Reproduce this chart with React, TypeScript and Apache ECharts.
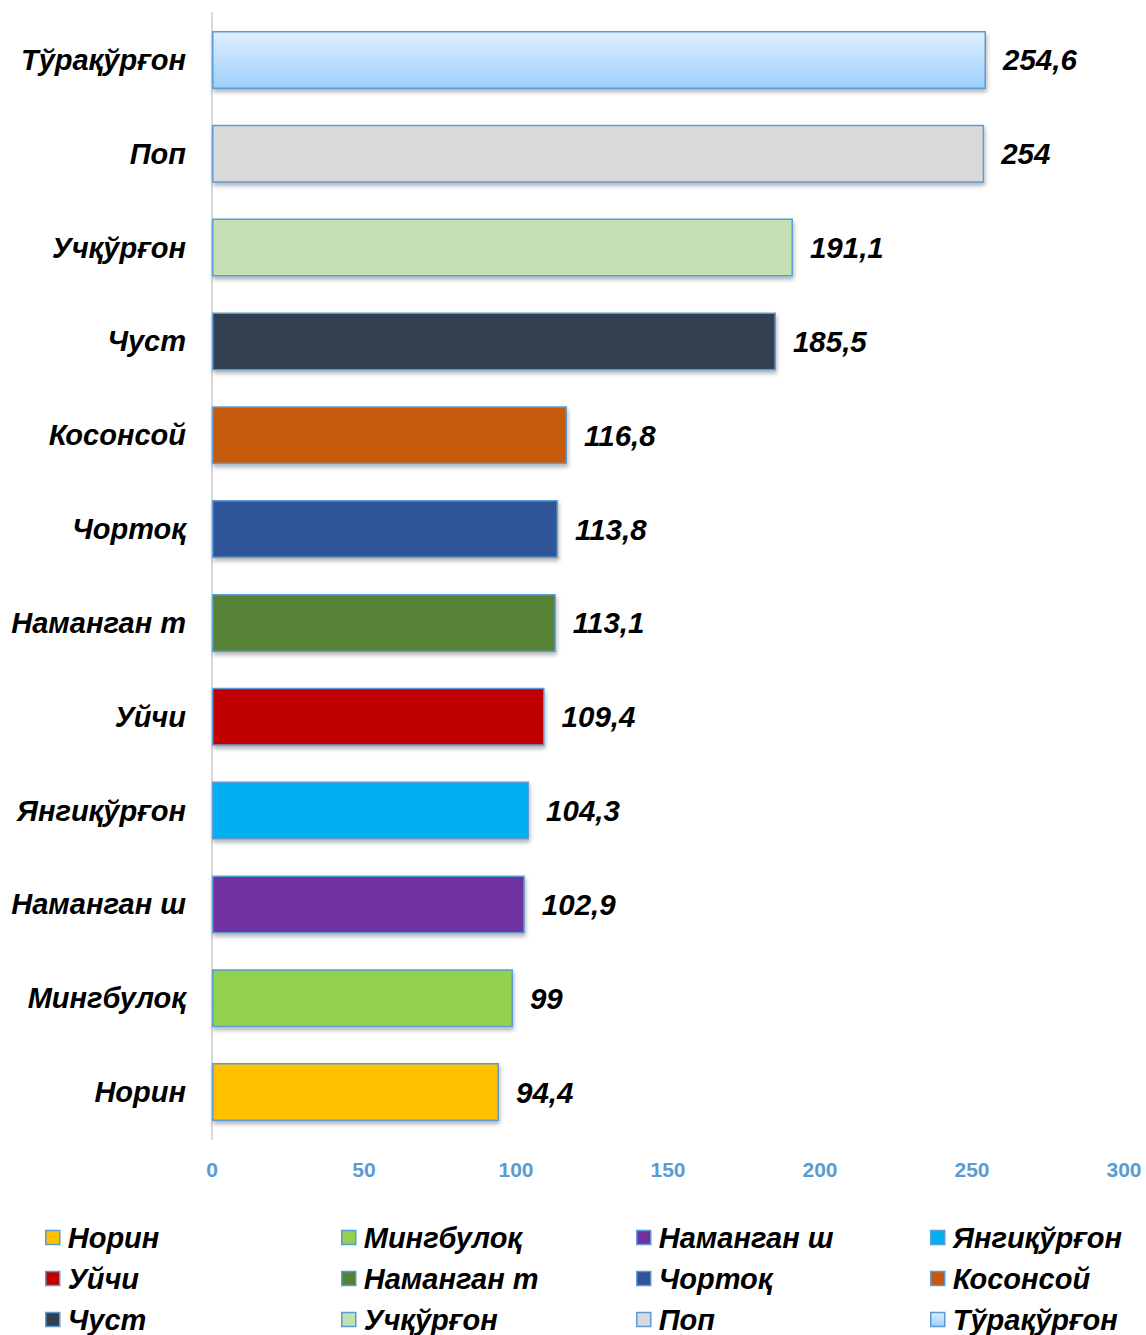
import React, { useEffect, useRef } from "react";
import * as echarts from "echarts";

const categories = [
  "Норин",
  "Мингбулоқ",
  "Наманган ш",
  "Янгиқўрғон",
  "Уйчи",
  "Наманган т",
  "Чортоқ",
  "Косонсой",
  "Чуст",
  "Учқўрғон",
  "Поп",
  "Тўрақўрғон",
];
const values = [94.4, 99, 102.9, 104.3, 109.4, 113.1, 113.8, 116.8, 185.5, 191.1, 254, 254.6];
const xTicks = [0, 50, 100, 150, 200, 250, 300];

const colors: any[] = [
  "#ffc000",
  "#92d050",
  "#7030a0",
  "#00b0f0",
  "#c00000",
  "#548235",
  "#2f5597",
  "#c55a11",
  "#333f50",
  "#c5e0b4",
  "#d9d9d9",
  {
    type: "linear",
    x: 0,
    y: 0,
    x2: 0,
    y2: 1,
    colorStops: [
      { offset: 0, color: "#e0efff" },
      { offset: 1, color: "#9ccffa" },
    ],
  },
];

const legendColumns = [
  [0, 4, 8],
  [1, 5, 9],
  [2, 6, 10],
  [3, 7, 11],
];
const legendLeft = [45, 341, 636, 930];

const FONT = "'Liberation Sans', Arial, sans-serif";

export default function App() {
  const ref = useRef<HTMLDivElement>(null);
  useEffect(() => {
    if (!ref.current) return;
    const chart = echarts.init(ref.current, undefined, { renderer: "svg" });
    const series = categories.map((name, i) => ({
      name,
      type: "bar",
      stack: "all",
      barWidth: 58,
      data: values.map((v, j) => (j === i ? v : "-")),
      itemStyle: {
        color: colors[i],
        borderColor: "#5b9bd5",
        borderWidth: 1.5,
        shadowBlur: 4,
        shadowOffsetY: 3,
        shadowOffsetX: 1,
        shadowColor: "rgba(0,0,0,0.3)",
      },
      label: {
        show: true,
        position: "right",
        distance: 17,
        formatter: (p: any) => String(p.value).replace(".", ","),
        fontSize: 29.5,
        fontWeight: "bold",
        fontStyle: "italic",
        fontFamily: FONT,
        color: "#000",
      },
    }));
    chart.setOption({
      animation: false,
      backgroundColor: "#fff",
      grid: { left: 212, right: 22, top: 13, bottom: 196, containLabel: false },
      legend: legendColumns.map((col, k) => ({
        orient: "vertical",
        left: legendLeft[k],
        top: 1223,
        bottom: -200,
        padding: 0,
        icon: "rect",
        itemWidth: 14,
        itemHeight: 14,
        itemGap: 12,
        selectedMode: false,
        data: col.map((i) => categories[i]),
        itemStyle: { shadowBlur: 0, shadowOffsetX: 0, shadowOffsetY: 0, borderWidth: 1.5 },
        textStyle: {
          fontSize: 29,
          fontWeight: "bold",
          fontStyle: "italic",
          fontFamily: FONT,
          color: "#000",
          padding: [0, 0, 0, 3],
        },
      })),
      xAxis: {
        type: "value",
        min: xTicks[0],
        max: xTicks[xTicks.length - 1],
        interval: 50,
        splitLine: { show: false },
        axisLine: { show: false },
        axisTick: { show: false },
        axisLabel: {
          color: "#5b9bd5",
          fontWeight: "bold",
          fontSize: 21,
          fontFamily: FONT,
          margin: 20,
        },
      },
      yAxis: {
        type: "category",
        data: categories,
        axisLine: { show: true, lineStyle: { color: "#d9d9d9", width: 2 } },
        axisTick: { show: false },
        axisLabel: {
          fontSize: 29,
          fontWeight: "bold",
          fontStyle: "italic",
          fontFamily: FONT,
          color: "#000",
          margin: 26,
        },
      },
      series,
    });
    return () => chart.dispose();
  }, []);
  return (
    <div
      ref={ref}
      style={{ position: "absolute", left: 0, top: 0, width: 1146, height: 1335 }}
    />
  );
}
